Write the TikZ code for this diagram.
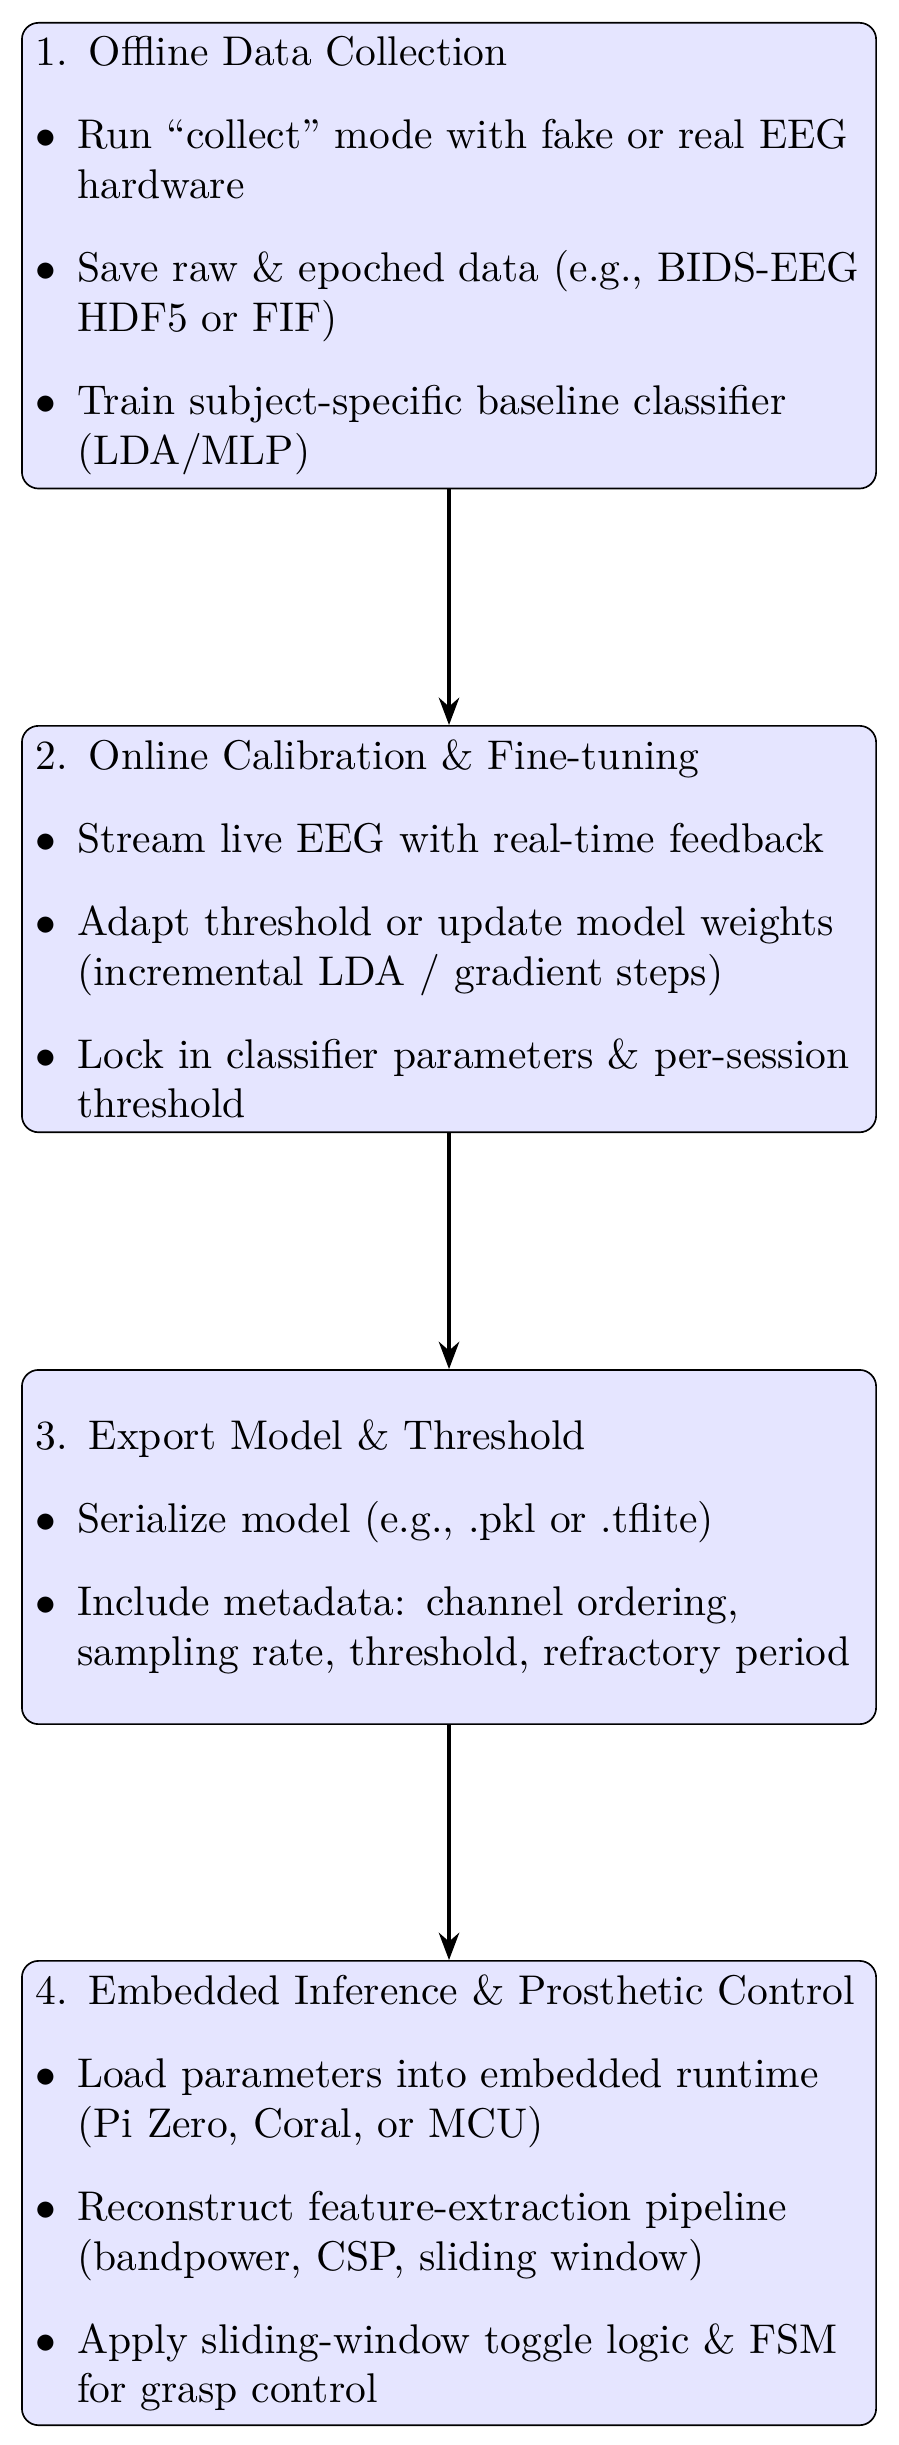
\documentclass[tikz,border=0pt]{standalone}
\usepackage{enumitem}
\usetikzlibrary{arrows.meta}
\setlist[itemize]{leftmargin=*, label=$\bullet$}
\tikzset{
  stagebox/.style={draw=black, fill=blue!10, rounded corners, text width=7cm,
    align=left, anchor=north, font=\normalsize},
  flowarrow/.style={-{Stealth}, thick}
}
\begin{document}
\begin{tikzpicture}
\useasboundingbox (0,0) rectangle (216.39pt,-589.16pt);
\node[stagebox] (s1) at (108.2pt,-5.3pt) {1. Offline Data Collection
\begin{itemize}
\item Run ``collect'' mode with fake or real EEG hardware
\item Save raw \& epoched data (e.g., BIDS-EEG HDF5 or FIF)
\item Train subject-specific baseline classifier (LDA/MLP)
\end{itemize}};
\node[stagebox] (s2) at (108.2pt,-174.7pt) {2. Online Calibration \& Fine-tuning
\begin{itemize}
\item Stream live EEG with real-time feedback
\item Adapt threshold or update model weights (incremental LDA / gradient steps)
\item Lock in classifier parameters \& per-session threshold
\end{itemize}};
\node[stagebox, minimum height=3cm] (s3) at (108.2pt,-329.9pt) {3. Export Model \& Threshold
\begin{itemize}
\item Serialize model (e.g., .pkl or .tflite)
\item Include metadata: channel ordering, sampling rate, threshold, refractory period
\end{itemize}};
\node[stagebox] (s4) at (108.2pt,-472.3pt) {4. Embedded Inference \& Prosthetic Control
\begin{itemize}
\item Load parameters into embedded runtime (Pi Zero, Coral, or MCU)
\item Reconstruct feature-extraction pipeline (bandpower, CSP, sliding window)
\item Apply sliding-window toggle logic \& FSM for grasp control
\end{itemize}};
\draw[flowarrow] (s1) -- (s2);
\draw[flowarrow] (s2) -- (s3);
\draw[flowarrow] (s3) -- (s4);
\end{tikzpicture}
\end{document}
